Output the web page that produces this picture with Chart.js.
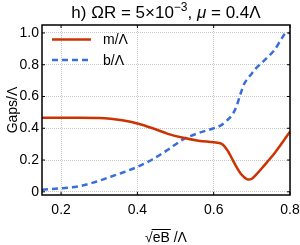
<!DOCTYPE html>
<html>
<head>
<meta charset="utf-8">
<script src="https://cdn.jsdelivr.net/npm/chart.js@4.4.1/dist/chart.umd.min.js"></script>
<style>
  body { margin: 0; background: #fff; }
  #wrap { width: 300px; height: 245px; }
</style>
</head>
<body>
<div id="wrap"><canvas id="myChart" width="300" height="245"></canvas></div>
<script>
// values
var eB = [0.15, 0.2, 0.25, 0.3, 0.33, 0.36, 0.4, 0.44, 0.48, 0.52, 0.56, 0.6, 0.62, 0.635, 0.65, 0.66, 0.67, 0.68, 0.69, 0.7, 0.71, 0.725, 0.74, 0.76, 0.78, 0.79, 0.8]
var mGap = [0.466, 0.466, 0.466, 0.465, 0.46, 0.45, 0.43, 0.4, 0.365, 0.34, 0.322, 0.312, 0.303, 0.265, 0.2, 0.155, 0.117, 0.092, 0.077, 0.082, 0.105, 0.145, 0.187, 0.245, 0.31, 0.345, 0.379]
var bGap = [0.013, 0.022, 0.036, 0.07, 0.095, 0.12, 0.157, 0.205, 0.265, 0.33, 0.37, 0.4, 0.42, 0.45, 0.49, 0.54, 0.615, 0.68, 0.715, 0.745, 0.775, 0.81, 0.845, 0.895, 0.972, 1.0, 1.0]
var xTicks = [0.2, 0.4, 0.6, 0.8]
var yTicks = [0, 0.2, 0.4, 0.6, 0.8, 1.0]

var red = 'rgb(204,51,0)'
var blue = 'rgb(55,110,220)'
var font = '"Liberation Sans", Arial, sans-serif'

function pts(ys) {
    return eB.map(function (x, i) { return { x: x, y: ys[i] } })
}

// title, axis labels, legend and frame drawn by hand
var extras = {
    id: 'extras',
    afterDraw: function (chart) {
        var ctx = chart.ctx
        var a = chart.chartArea
        ctx.save()
        ctx.fillStyle = '#000'
        ctx.textBaseline = 'alphabetic'

        // title with superscript and italic mu
        var parts = [
            { t: 'h) ΩR = 5×10', f: '17px ' + font, dy: 0 },
            { t: '−3', f: '12px ' + font, dy: -7 },
            { t: ', ', f: '17px ' + font, dy: 0 },
            { t: 'μ', f: 'italic 17px ' + font, dy: 0 },
            { t: ' = 0.4Λ', f: '17px ' + font, dy: 0 }
        ]
        var w = 0
        parts.forEach(function (p) { ctx.font = p.f; w += ctx.measureText(p.t).width })
        var x = (a.left + a.right) / 2 - w / 2
        parts.forEach(function (p) {
            ctx.font = p.f
            ctx.textAlign = 'left'
            ctx.fillText(p.t, x, 17.5 + p.dy)
            x += ctx.measureText(p.t).width
        })

        // x label  √eB /Λ
        ctx.font = '14px ' + font
        var s1 = '√', s2 = 'eB', s3 = ' /Λ'
        var w1 = ctx.measureText(s1).width, w2 = ctx.measureText(s2).width, w3 = ctx.measureText(s3).width
        var lx = (a.left + a.right) / 2 - (w1 + w2 + w3) / 2
        var by = 242
        ctx.fillText(s1, lx, by)
        ctx.fillText(s2, lx + w1, by)
        ctx.fillText(s3, lx + w1 + w2, by)
        ctx.strokeStyle = '#000'
        ctx.lineWidth = 1
        ctx.beginPath()
        ctx.moveTo(lx + w1 - 1, by - 12.5)
        ctx.lineTo(lx + w1 + w2 + 1, by - 12.5)
        ctx.stroke()

        // y label
        ctx.save()
        ctx.translate(13, (a.top + a.bottom) / 2)
        ctx.rotate(-Math.PI / 2)
        ctx.textAlign = 'center'
        ctx.textBaseline = 'middle'
        ctx.font = '14px ' + font
        ctx.fillText('Gaps/Λ', 0, 0)
        ctx.restore()

        // legend
        var items = [
            { label: 'm/Λ', color: red, dash: [], y: 39.5 },
            { label: 'b/Λ', color: blue, dash: [6, 4], y: 60 }
        ]
        items.forEach(function (it) {
            ctx.strokeStyle = it.color
            ctx.lineWidth = 2.5
            ctx.setLineDash(it.dash)
            ctx.beginPath()
            ctx.moveTo(52, it.y)
            ctx.lineTo(91, it.y)
            ctx.stroke()
            ctx.setLineDash([])
            ctx.fillStyle = '#000'
            ctx.font = '14px ' + font
            ctx.textAlign = 'left'
            ctx.textBaseline = 'middle'
            ctx.fillText(it.label, 103, it.y + 1)
        })

        // frame and small inward ticks
        ctx.strokeStyle = '#000'
        ctx.lineWidth = 1.5
        ctx.strokeRect(a.left, a.top, a.right - a.left, a.bottom - a.top)
        ctx.lineWidth = 1
        var xs = chart.scales.x, ys = chart.scales.y
        xTicks.forEach(function (v) {
            var px = xs.getPixelForValue(v)
            ctx.beginPath()
            ctx.moveTo(px, a.bottom); ctx.lineTo(px, a.bottom - 3)
            ctx.moveTo(px, a.top); ctx.lineTo(px, a.top + 3)
            ctx.stroke()
        })
        yTicks.forEach(function (v) {
            var py = ys.getPixelForValue(v)
            ctx.beginPath()
            ctx.moveTo(a.left, py); ctx.lineTo(a.left + 3, py)
            ctx.moveTo(a.right, py); ctx.lineTo(a.right - 3, py)
            ctx.stroke()
        })
        ctx.restore()
    }
}

var ctx = document.getElementById('myChart').getContext('2d')
var myChart = new Chart(ctx, {
    type: 'line',
    data: {
        datasets: [{
            label: 'm/Λ',
            data: pts(mGap),
            borderColor: red,
            borderWidth: 2.5,
            pointRadius: 0,
            cubicInterpolationMode: 'monotone',
            fill: false
        }, {
            label: 'b/Λ',
            data: pts(bGap),
            borderColor: blue,
            borderWidth: 2.5,
            borderDash: [6, 4],
            pointRadius: 0,
            cubicInterpolationMode: 'monotone',
            fill: false
        }]
    },
    options: {
        responsive: false,
        animation: false,
        layout: { padding: { top: 25, right: 10, left: 0, bottom: 0 } },
        plugins: {
            legend: { display: false },
            tooltip: { enabled: false },
            title: { display: false }
        },
        scales: {
            x: {
                type: 'linear',
                min: 0.15,
                max: 0.8,
                afterBuildTicks: function (scale) {
                    scale.ticks = xTicks.map(function (v) { return { value: v } })
                },
                afterFit: function (scale) {
                    scale.height = 50
                    scale.paddingLeft = 0
                    scale.paddingRight = 0
                },
                grid: { color: '#c8c8c8', drawTicks: false, lineWidth: 1 },
                border: { display: false, dash: [1, 1] },
                ticks: {
                    padding: 7,
                    color: '#000',
                    font: { family: font, size: 14 },
                    callback: function (v) { return v.toFixed(1) }
                }
            },
            y: {
                min: -0.02,
                max: 1.05,
                afterBuildTicks: function (scale) {
                    scale.ticks = yTicks.map(function (v) { return { value: v } })
                },
                afterFit: function (scale) {
                    scale.width = 42
                    scale.paddingTop = 0
                    scale.paddingBottom = 0
                },
                grid: { color: '#c8c8c8', drawTicks: false, lineWidth: 1 },
                border: { display: false, dash: [1, 1] },
                ticks: {
                    padding: 3,
                    color: '#000',
                    font: { family: font, size: 14 },
                    callback: function (v) { return v === 0 ? '0' : v.toFixed(1) }
                }
            }
        }
    },
    plugins: [extras]
})
</script>
</body>
</html>
